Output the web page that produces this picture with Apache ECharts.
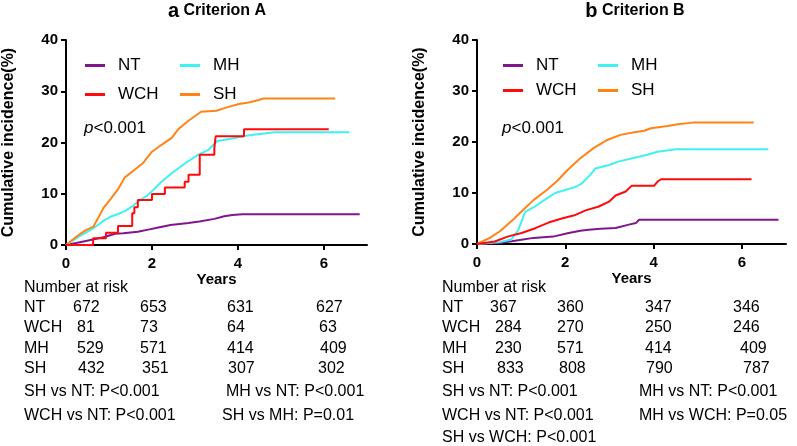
<!DOCTYPE html>
<html><head><meta charset="utf-8">
<script src="https://cdn.jsdelivr.net/npm/echarts@6/dist/echarts.min.js"></script>
<style>html,body{margin:0;padding:0;background:#fff}#c{width:797px;height:446px}</style>
</head><body><div id="c"></div>
<script>
// ---------- DATA ----------
const groups = ['NT', 'WCH', 'MH', 'SH'];
const xTicks = [0, 2, 4, 6];
const yTicks = [0, 10, 20, 30, 40];

// Panel a: Criterion A  ([years, cumulative incidence %])
const a_NT = [[0,0],[0.38,0.65],[0.76,1.3],[0.87,1.5],[1.14,2.2],[1.33,2.3],[1.67,2.6],[1.97,3.1],[2.09,3.3],[2.43,3.9],[2.85,4.3],[3.1,4.6],[3.45,5.1],[3.68,5.6],[3.87,5.85],[4.10,6.0],[6.83,6.0]];
const a_WCH = [[0,0],[0.63,1.3],[0.93,2.4],[1.21,3.7],[1.54,6.2],[1.59,7.35],[1.67,8.8],[2.0,9.95],[2.30,11.2],[2.76,12.35],[2.85,13.7],[3.11,17.6],[3.45,18.9],[3.48,21.2],[4.14,22.6],[6.11,22.6]];
const a_MH = [[0,0],[0.25,1.4],[0.56,2.9],[0.68,3.5],[0.85,4.6],[1.03,5.5],[1.2,6.0],[1.37,6.6],[1.55,7.6],[1.70,8.6],[1.90,9.7],[2.05,10.9],[2.20,12.2],[2.46,14.0],[2.76,15.9],[3.07,17.6],[3.30,18.5],[3.52,20.3],[3.87,20.8],[4.18,21.3],[4.56,21.7],[4.86,22.0],[6.59,22.0]];
const a_SH = [[0,0],[0.27,1.8],[0.46,2.9],[0.64,3.6],[0.87,7.2],[1.05,9.1],[1.21,10.9],[1.37,13.2],[1.55,14.4],[1.78,15.9],[2.0,18.2],[2.23,19.6],[2.46,20.9],[2.61,22.6],[2.84,24.2],[3.14,26.0],[3.50,26.2],[3.72,26.8],[4.02,27.5],[4.25,27.8],[4.48,28.3],[4.59,28.6],[6.26,28.6]];

// Panel b: Criterion B
const b_NT = [[0,0],[0.52,0.2],[0.97,0.8],[1.28,1.2],[1.73,1.45],[2.05,2.1],[2.34,2.6],[2.53,2.8],[2.80,3.0],[3.14,3.15],[3.44,3.8],[3.60,4.1],[3.67,4.75],[6.83,4.75]];
const b_WCH = [[0,0],[0.4,0.5],[0.71,1.5],[1.01,2.15],[1.32,3.1],[1.62,4.2],[1.92,5.0],[2.23,5.7],[2.46,6.6],[2.76,7.35],[2.99,8.3],[3.14,9.5],[3.37,10.3],[3.50,11.4],[4.01,11.4],[4.09,12.25],[4.17,12.7],[6.22,12.7]];
const b_MH = [[0,0],[0.52,0.4],[0.78,0.9],[0.94,2.8],[1.09,6.3],[1.32,7.4],[1.54,8.7],[1.77,10.0],[2.0,10.6],[2.23,11.2],[2.38,11.9],[2.57,13.6],[2.68,14.8],[2.99,15.5],[3.22,16.2],[3.52,16.8],[3.86,17.5],[4.09,18.1],[4.51,18.6],[6.6,18.6]];
const b_SH = [[0,0],[0.29,1.2],[0.52,2.5],[0.82,4.8],[1.05,6.7],[1.28,8.6],[1.58,10.6],[1.81,12.3],[2.04,14.4],[2.34,16.8],[2.64,18.8],[2.95,20.4],[3.25,21.4],[3.56,21.9],[3.79,22.2],[3.94,22.7],[4.32,23.15],[4.55,23.5],[4.89,23.8],[6.27,23.8]];

// Number at risk (at 0, 2, 4, 6 years)
const riskA_NT = [672, 653, 631, 627];
const riskA_WCH = [81, 73, 64, 63];
const riskA_MH = [529, 571, 414, 409];
const riskA_SH = [432, 351, 307, 302];
const riskB_NT = [367, 360, 347, 346];
const riskB_WCH = [284, 270, 250, 246];
const riskB_MH = [230, 571, 414, 409];
const riskB_SH = [833, 808, 790, 787];

const compA = ['SH vs NT: P<0.001', 'MH vs NT: P<0.001', 'WCH vs NT: P<0.001', 'SH vs MH: P=0.01'];
const compB = ['SH vs NT: P<0.001', 'MH vs NT: P<0.001', 'WCH vs NT: P<0.001', 'MH vs WCH: P=0.05', 'SH vs WCH: P<0.001'];

const titleA = ['a', 'Criterion A'];
const titleB = ['b', 'Criterion B'];
const pText = 'p<0.001';
const yName = 'Cumulative incidence(%)';
const xName = 'Years';

// ---------- STYLE / LAYOUT ----------
const FF = '"Liberation Sans", Arial, Helvetica, sans-serif';
const colors = { NT: '#80168c', WCH: '#ff0a0a', MH: '#3ff2f2', SH: '#ff8417' };

const grids = [
  { left: 60, top: 40, width: 307, height: 205 },
  { left: 477, top: 40, width: 309, height: 204 }
];

function xAxisCfg(i) {
  return {
    type: 'value', gridIndex: i, min: 0, max: 7,
    name: xName, nameLocation: 'middle', nameGap: 27,
    nameTextStyle: { fontFamily: FF, fontWeight: 'bold', fontSize: 15, color: '#000' },
    axisLine: { lineStyle: { color: '#000', width: 2 } },
    axisTick: { customValues: xTicks, length: 5, lineStyle: { color: '#000', width: 2 } },
    axisLabel: { customValues: xTicks, margin: 11, fontFamily: FF, fontWeight: 'bold', fontSize: 15, color: '#000' },
    splitLine: { show: false }
  };
}
function yAxisCfg(i) {
  return {
    type: 'value', gridIndex: i, min: yTicks[0], max: yTicks[yTicks.length - 1], interval: 10,
    name: yName, nameLocation: 'middle', nameGap: 49,
    nameTextStyle: { fontFamily: FF, fontWeight: 'bold', fontSize: 16, color: '#000' },
    axisLine: { show: true, lineStyle: { color: '#000', width: 2 } },
    axisTick: { show: true, length: 5, lineStyle: { color: '#000', width: 2 } },
    axisLabel: { margin: 8, fontFamily: FF, fontWeight: 'bold', fontSize: 15, color: '#000' },
    splitLine: { show: false }
  };
}

const panelData = [
  { NT: a_NT, WCH: a_WCH, MH: a_MH, SH: a_SH },
  { NT: b_NT, WCH: b_WCH, MH: b_MH, SH: b_SH }
];
const series = [];
panelData.forEach((pd, i) => {
  groups.forEach(g => {
    series.push({
      type: 'line', name: g, xAxisIndex: i, yAxisIndex: i,
      data: pd[g], showSymbol: false, symbol: 'none',
      step: (i === 0 && g === 'WCH') ? 'end' : false,
      lineStyle: { color: colors[g], width: 2 }, itemStyle: { color: colors[g] },
      z: g === 'WCH' ? 4 : 3, animation: false
    });
  });
});

function legendCfg(data, left, top, gap) {
  return {
    data: data, orient: 'vertical', left: left, top: top, itemGap: gap,
    icon: 'rect', itemWidth: 20, itemHeight: 3,
    textStyle: { fontFamily: FF, fontSize: 17, color: '#000', padding: [0, 0, 0, 8] },
    selectedMode: false
  };
}

// table text graphics
const txt = (text, x, y, opts) => ({
  type: 'text', x: x, y: y, silent: true,
  style: Object.assign({ text: String(text), fill: '#000', font: '16px ' + FF, verticalAlign: 'middle', align: 'left' }, opts || {})
});

const graphics = [];
function addPanelText(title, tx, px, risks, labelX, cols, comps, compPos) {
  graphics.push(txt('{a|' + title[0] + '} {b|' + title[1] + '}', tx, 11, {
    align: 'center', rich: { a: { font: 'bold 20px ' + FF, fill: '#000' }, b: { font: 'bold 16px ' + FF, fill: '#000' } }
  }));
  graphics.push(txt('{i|p}<0.001'.replace('<0.001', pText.slice(1)), px, 128, {
    font: '17px ' + FF, rich: { i: { font: 'italic 17px ' + FF, fill: '#000' } }
  }));
  graphics.push(txt('Number at risk', labelX, 288));
  const rowsY = [308, 328, 349, 369];
  groups.forEach((g, r) => {
    graphics.push(txt(g, labelX, rowsY[r]));
    risks[r].forEach((v, c) => graphics.push(txt(v, cols[r][c], rowsY[r])));
  });
  comps.forEach((c, k) => graphics.push(txt(c, compPos[k][0], compPos[k][1])));
}
addPanelText(titleA, 217, 84, [riskA_NT, riskA_WCH, riskA_MH, riskA_SH], 24,
  [[73,140,227,316],[77,140,227,319],[77,140,227,320],[78,142,228,318]],
  compA, [[24,392],[226,392],[24,416],[222,416]]);
addPanelText(titleB, 635, 502, [riskB_NT, riskB_WCH, riskB_MH, riskB_SH], 442,
  [[490,557,645,733],[495,557,645,733],[495,557,645,740],[497,559,646,743]],
  compB, [[442,392],[639,392],[442,416],[639,416],[442,438]]);

const chart = echarts.init(document.getElementById('c'), null, { renderer: 'canvas' });
chart.setOption({
  animation: false,
  backgroundColor: '#fff',
  grid: grids,
  xAxis: [xAxisCfg(0), xAxisCfg(1)],
  yAxis: [yAxisCfg(0), yAxisCfg(1)],
  legend: [
    legendCfg(['NT', 'WCH'], 80, 52, 12),
    legendCfg(['MH', 'SH'], 175, 52, 12),
    legendCfg(['NT', 'WCH'], 498, 52, 8),
    legendCfg(['MH', 'SH'], 593, 52, 8)
  ],
  series: series,
  graphic: graphics
});
</script>
</body></html>
